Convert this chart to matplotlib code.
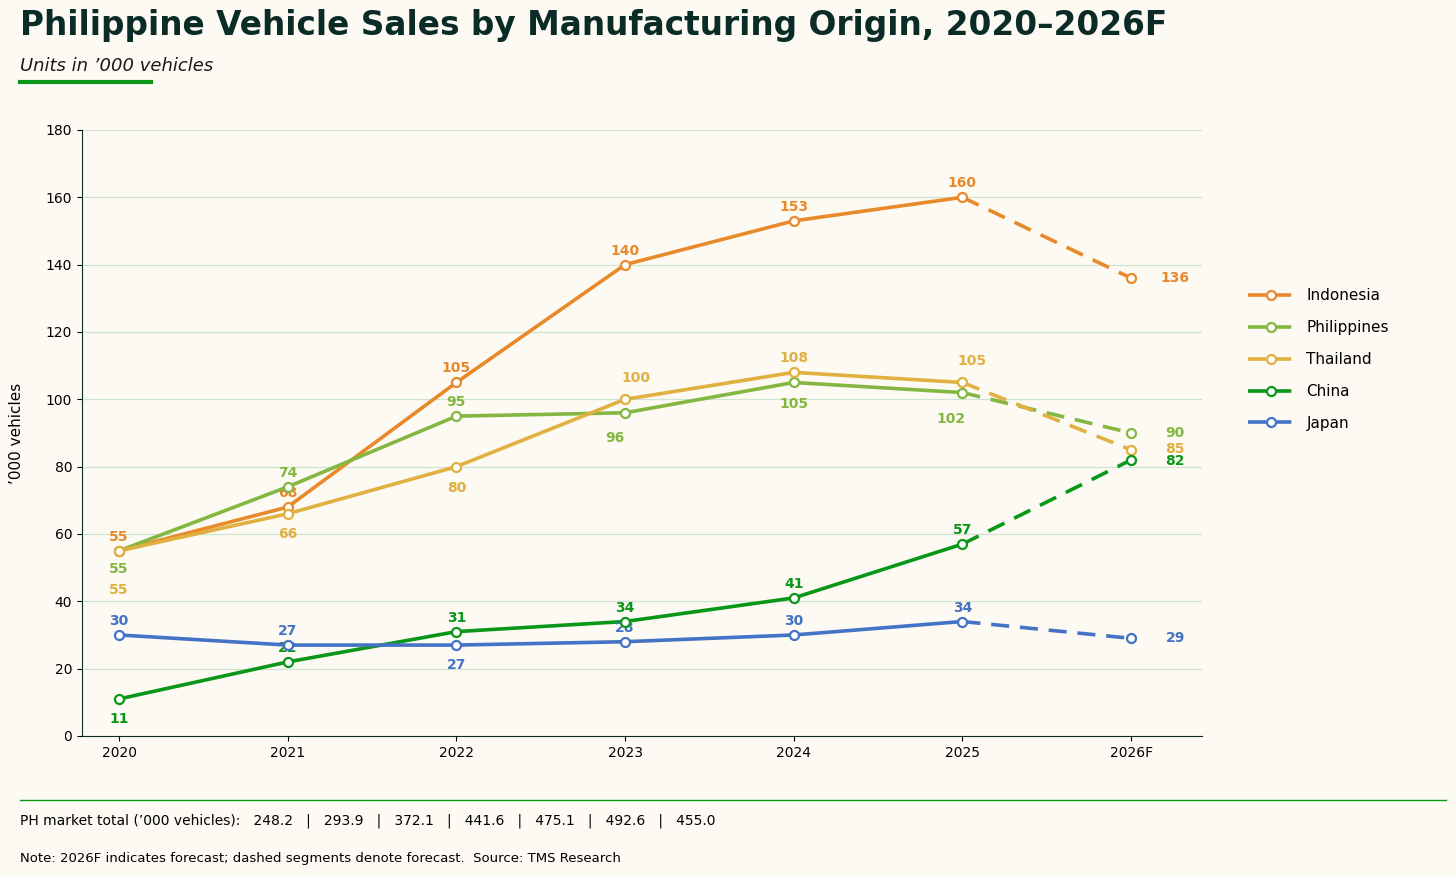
import matplotlib.pyplot as plt
from matplotlib.lines import Line2D

years = ["2020", "2021", "2022", "2023", "2024", "2025", "2026F"]
series_names = ["Indonesia", "Philippines", "Thailand", "China", "Japan"]
indonesia = [55, 68, 105, 140, 153, 160, 136]
philippines = [55, 74, 95, 96, 105, 102, 90]
thailand = [55, 66, 80, 100, 108, 105, 85]
china = [11, 22, 31, 34, 41, 57, 82]
japan = [30, 27, 27, 28, 30, 34, 29]
market_totals = ["248.2", "293.9", "372.1", "441.6", "475.1", "492.6", "455.0"]

colors = {
    "Indonesia": "#E8892B",
    "Philippines": "#84B741",
    "Thailand": "#E0B040",
    "China": "#0A9618",
    "Japan": "#4472C4",
}
# label offsets in pixels (dx, dy), positive dy = up
label_offsets = {
    "Indonesia": [(0, 14), (0, 14), (0, 14), (0, 14), (0, 14), (0, 14), (44, 0)],
    "Philippines": [(0, -18), (0, 14), (0, 14), (-10, -25), (0, -22), (-11, -26), (44, 0)],
    "Thailand": [(0, -39), (0, -20), (0, -21), (11, 21), (0, 14), (10, 21), (44, 1)],
    "China": [(0, -20), (0, 14), (0, 14), (0, 14), (0, 14), (0, 14), (44, -1)],
    "Japan": [(0, 14), (0, 14), (0, -20), (0, 14), (0, 14), (0, 14), (44, 0)],
}

BG = "#FDFAF3"
values = dict(zip(series_names, [indonesia, philippines, thailand, china, japan]))

fig = plt.figure(figsize=(14.56, 8.77), dpi=100, facecolor=BG)
ax = fig.add_axes([0.0563, 0.1608, 0.7692, 0.691])
ax.set_facecolor(BG)
x = list(range(len(years)))

for name in series_names:
    ys = values[name]
    c = colors[name]
    ax.plot(x[:6], ys[:6], color=c, lw=2.6, zorder=3)
    ax.plot(x[5:], ys[5:], color=c, lw=2.6, ls=(0, (5, 3)), zorder=3)
    ax.plot(x, ys, "o", ms=6.5, mfc="white", mec=c, mew=1.6, zorder=4)
    for xi, yi, (dx, dy) in zip(x, ys, label_offsets[name]):
        ax.annotate(str(yi), (xi, yi), xytext=(dx, dy), textcoords="offset pixels",
                    ha="center", va="center", fontsize=10, fontweight="bold", color=c)

ax.set_xlim(-0.22, 6.42)
ax.set_ylim(0, 180)
ax.set_yticks(range(0, 181, 20))
ax.set_xticks(x)
ax.set_xticklabels(years)
ax.tick_params(labelsize=10)
ax.grid(axis="y", color="#CFE3D3", lw=0.9)
ax.set_axisbelow(True)
for s in ["top", "right"]:
    ax.spines[s].set_visible(False)
for s in ["left", "bottom"]:
    ax.spines[s].set_color("#0B2B26")
ax.set_ylabel("’000 vehicles", fontsize=11, labelpad=16)

handles = [Line2D([0], [0], color=colors[n], lw=2.6, ls=(0, (5, 2)), marker="o",
                  mfc="white", mec=colors[n], mew=1.6, ms=6.5) for n in series_names]
fig.legend(handles, series_names, loc="center left", bbox_to_anchor=(0.848, 0.59),
           frameon=False, fontsize=11, handlelength=3, labelspacing=1.1)

fig.text(0.014, 0.971, "Philippine Vehicle Sales by Manufacturing Origin, 2020–2026F",
         fontsize=23.6, fontweight="bold", color="#0B2B26", va="center")
fig.text(0.014, 0.925, "Units in ’000 vehicles", fontsize=13, style="italic",
         color="#1A1A1A", va="center")
fig.add_artist(Line2D([0.014, 0.104], [0.906, 0.906], color="#0A9618", lw=3))
fig.add_artist(Line2D([0.014, 0.993], [0.088, 0.088], color="#0A9618", lw=1))
fig.text(0.014, 0.064, "PH market total (’000 vehicles):   " + "   |   ".join(market_totals),
         fontsize=10, va="center")
fig.text(0.014, 0.021, "Note: 2026F indicates forecast; dashed segments denote forecast.  Source: TMS Research",
         fontsize=9.5, va="center")

fig.savefig("out.png", dpi=100, facecolor=BG)
